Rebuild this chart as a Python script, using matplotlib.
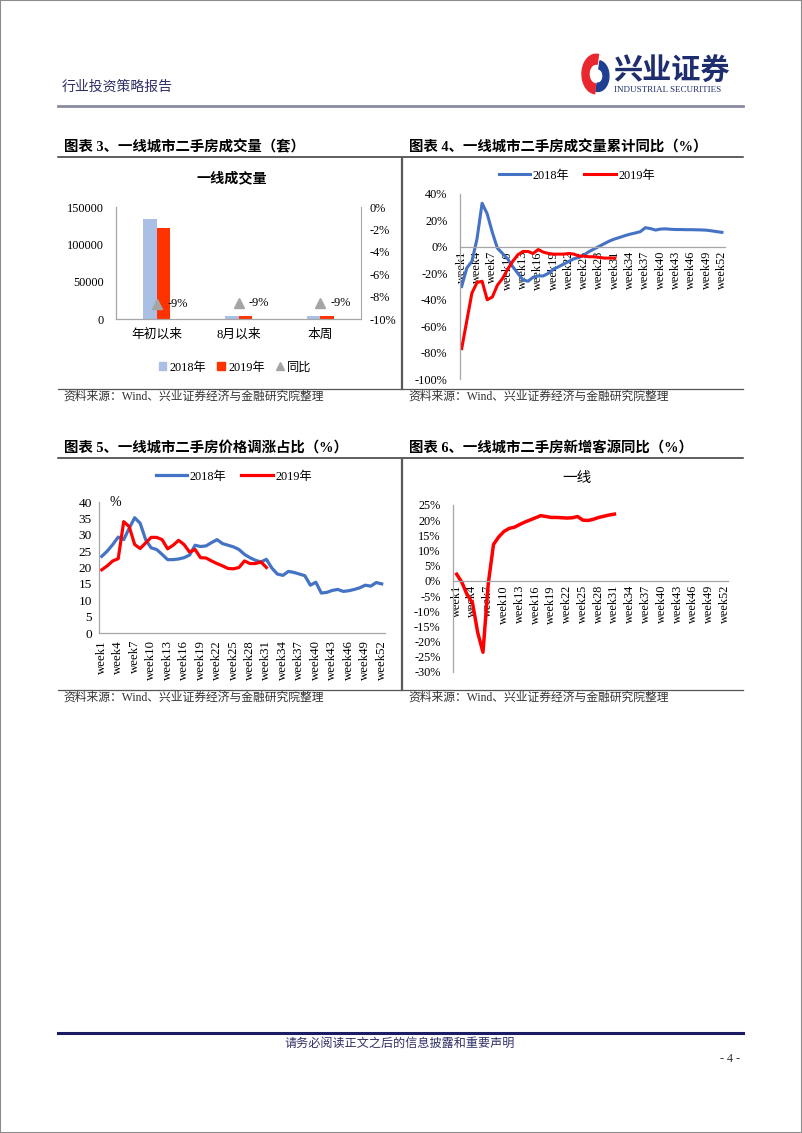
import numpy as np
import matplotlib
matplotlib.use('Agg')
import matplotlib.pyplot as plt
from matplotlib.lines import Line2D
from matplotlib.patches import Patch, Wedge, Rectangle

plt.rcParams['font.family'] = ['Liberation Serif', 'Noto Sans CJK SC']
plt.rcParams['axes.unicode_minus'] = False

# ---- data ----
vol_cats = ['年初以来', '8月以来', '本周']
vol_2018 = [134900, 4500, 4400]
vol_2019 = [122800, 4100, 4000]
vol_yoy = [-8.66, -8.54, -8.54]

weeks = np.arange(1, 53)
week_ticks = list(range(1, 53, 3))
week_labels = ['week%d' % w for w in week_ticks]

cum_2018 = [-30, -16, -11, 6, 33, 25, 11, -1, -5, -9, -15, -20, -25, -26, -23, -22,
            -22, -20, -17, -15, -13, -11, -9, -8, -6, -3.5, -1.5, 0.5, 2.5, 4.5, 6, 7.2,
            8.5, 9.6, 10.5, 11.5, 14.5, 13.8, 12.7, 13.5, 13.6, 13.3, 13.1, 13.1, 13, 13,
            12.9, 12.8, 12.6, 12.1, 11.5, 11]
cum_2019 = [-77, -56, -35, -27, -26, -40, -38, -29, -24, -17, -11, -6, -3.5, -3.5, -5, -2,
            -4, -5, -5.5, -5.5, -5.5, -5, -5.5, -7, -7, -7.5, -7.5, -8, -8.5, -8.5, -8.5]

up_2018 = [23.4, 25, 27, 29.3, 28.5, 32, 35.2, 33.5, 28.5, 26, 25.5, 24, 22.4, 22.4, 22.6,
           23, 23.8, 26.8, 26.4, 26.6, 27.6, 28.5, 27.3, 26.8, 26.3, 25.5, 24, 23, 22.2,
           21.7, 22.5, 19.8, 18, 17.6, 18.8, 18.5, 18, 17.5, 14.6, 15.5, 12.2, 12.4, 13,
           13.3, 12.7, 12.9, 13.3, 13.8, 14.6, 14.3, 15.4, 15]
up_2019 = [19.3, 20.5, 22, 22.7, 34, 32.5, 27, 25.8, 27.5, 29.2, 29.2, 28.5, 25.7, 26.8,
           28.3, 27, 24.7, 25.5, 23, 22.9, 22, 21.2, 20.5, 19.7, 19.6, 20, 22, 21.2, 21.2,
           21.7, 20]

new_src = [2.2, -0.5, -4.6, -7.2, -17, -23.5, -1, 12, 14.5, 16.3, 17.3, 17.7, 18.6, 19.4,
           20.1, 20.8, 21.5, 21.2, 20.9, 20.9, 20.8, 20.7, 20.8, 21.2, 20, 19.9, 20.3,
           20.9, 21.3, 21.7, 22]

W, H = 802, 1133
BLUE = '#4472c4'
RED = '#ff0000'
GRID = '#a6a6a6'
NAVY = '#2e2e66'
SRC = '资料来源：Wind、兴业证券经济与金融研究院整理'

fig = plt.figure(figsize=(W / 100, H / 100), dpi=100)


def add_ax(x0, y0, x1, y1):
    return fig.add_axes([x0 / W, 1 - y1 / H, (x1 - x0) / W, (y1 - y0) / H])


def ftext(x, y, s, **kw):
    kw.setdefault('va', 'center')
    fig.text(x / W, 1 - y / H, s, **kw)


def fline(x0, y0, x1, y1, **kw):
    fig.add_artist(Line2D([x0 / W, x1 / W], [1 - y0 / H, 1 - y1 / H], **kw))


def style(ax):
    for s in ['top', 'right']:
        ax.spines[s].set_visible(False)
    for s in ['left', 'bottom']:
        ax.spines[s].set_color(GRID)
        ax.spines[s].set_linewidth(0.9)
    ax.tick_params(length=0, labelsize=8.8)
    ax.set_facecolor('none')


# ---- page frame, header, footer ----
fig.add_artist(Rectangle((0, 0), 1, 1, transform=fig.transFigure, fill=False,
                         edgecolor='#8c8c8c', lw=1.5))
ftext(62, 87, '行业投资策略报告', fontsize=10, color=NAVY)
fline(58, 105.5, 743, 105.5, color='#8a8aa0', lw=2)

# logo: two interlocking crescents + name
cx, cy, r = 596, 74, 14
fig.add_artist(Wedge((cx / W, 1 - cy / H), r / W, 80, 265, width=r * 0.5 / W,
                     color='#e8272f', transform=fig.transFigure))
fig.add_artist(Wedge(((cx + 2) / W, 1 - (cy + 2) / H), r * 0.78 / W, -100, 80,
                     width=r * 0.42 / W, color='#1f3f93', transform=fig.transFigure))
ftext(613, 72, '兴业证券', fontsize=21, fontweight='bold', color='#1e2d6e')
ftext(614, 89.5, 'INDUSTRIAL SECURITIES', fontsize=6.5, color='#1e2d6e')

fline(58, 1033, 743, 1033, color='#1c1c64', lw=2.2)
ftext(400, 1044, '请务必阅读正文之后的信息披露和重要声明', fontsize=8.7, color=NAVY,
      ha='center')
ftext(740, 1059, '- 4 -', fontsize=8.7, color='#333333', ha='right')

# section frames
for y_top, y_s, y_src in [(157, 389, 397), (458, 690, 698)]:
    fline(58, y_top, 743, y_top, color='#333333', lw=1.1)
    fline(58, y_s, 743, y_s, color='#555555', lw=0.9)
    fline(401.5, y_top + 1, 401.5, y_s, color='#595959', lw=1.6)
    ftext(63, y_src, SRC, fontsize=8.5, color='#333333')
    ftext(408, y_src, SRC, fontsize=8.5, color='#333333')

ftext(64, 147, '图表 3、一线城市二手房成交量（套）', fontsize=10.4, fontweight='bold')
ftext(409, 147, '图表 4、一线城市二手房成交量累计同比（%）', fontsize=10.4, fontweight='bold')
ftext(64, 449, '图表 5、一线城市二手房价格调涨占比（%）', fontsize=10.4, fontweight='bold')
ftext(409, 449, '图表 6、一线城市二手房新增客源同比（%）', fontsize=10.4, fontweight='bold')

# ---- chart 3: volume bars ----
ax3 = add_ax(116, 207.3, 361, 319)
style(ax3)
x = np.arange(len(vol_cats))
bw = 0.164
ax3.bar(x - bw / 2, vol_2018, bw, color='#a9bfe3', label='2018年')
ax3.bar(x + bw / 2, vol_2019, bw, color='#ff3300', label='2019年')
ax3.set_xlim(-0.5, 2.5)
ax3.set_ylim(0, 150000)
ax3.set_yticks([0, 50000, 100000, 150000])
ax3.set_yticklabels(['0', '50000', '100000', '150000'])
ax3.tick_params(axis='y', pad=9)
ax3.set_xticks(x)
ax3.set_xticklabels(vol_cats, fontsize=9.2)
ax3.tick_params(axis='x', pad=7)
ax3r = ax3.twinx()
ax3r.set_ylim(-10, 0)
ax3r.set_yticks(range(-10, 1, 2))
ax3r.set_yticklabels(['%d%%' % v for v in range(-10, 1, 2)])
ax3r.tick_params(length=0, labelsize=8.8, pad=6)
for s in ['top', 'left', 'bottom']:
    ax3r.spines[s].set_visible(False)
ax3r.spines['right'].set_color(GRID)
ax3r.plot(x, vol_yoy, linestyle='none', marker='^', markersize=6.5, color='#a5a5a5',
          label='同比')
for xi, v in zip(x, vol_yoy):
    ax3r.annotate('%.0f%%' % v, (xi, v), xytext=(7.5, 0), textcoords='offset points',
                  va='center', ha='left', fontsize=8.8)
ftext(232, 178.5, '一线成交量', fontsize=10.2, fontweight='bold', ha='center')
handles = [Patch(color='#a9bfe3'), Patch(color='#ff3300'),
           Line2D([], [], linestyle='none', marker='^', color='#a5a5a5', markersize=6)]
fig.legend(handles, ['2018年', '2019年', '同比'], loc='center',
           bbox_to_anchor=(235 / W, 1 - 367.5 / H), ncol=3, frameon=False, fontsize=8.8,
           handlelength=0.6, handleheight=0.6, handletextpad=0.3, columnspacing=0.9)

# ---- chart 4: cumulative yoy ----
ax4 = add_ax(460, 194, 725, 379)
style(ax4)
ax4.plot(weeks, cum_2018, color=BLUE, lw=2.2, label='2018年')
ax4.plot(weeks[:len(cum_2019)], cum_2019, color=RED, lw=2.2, label='2019年')
ax4.set_xlim(0.67, 52.6)
ax4.set_ylim(-100, 40)
ax4.set_yticks(range(-100, 41, 20))
ax4.set_yticklabels(['%d%%' % v for v in range(-100, 41, 20)])
ax4.tick_params(axis='y', pad=9)
ax4.spines['bottom'].set_position(('data', 0))
ax4.set_xticks(week_ticks)
ax4.set_xticklabels(week_labels, rotation=90)
ax4.tick_params(axis='x', pad=3)
ax4.legend(loc='center', bbox_to_anchor=(577 / W, 1 - 175.5 / H),
           bbox_transform=fig.transFigure, ncol=2, frameon=False, fontsize=8.8,
           handlelength=2.6, handletextpad=0.2, columnspacing=1.2)

# ---- chart 5: price-up share ----
ax5 = add_ax(99, 502, 385, 633)
style(ax5)
ax5.plot(weeks, up_2018, color=BLUE, lw=2.3, label='2018年')
ax5.plot(weeks[:len(up_2019)], up_2019, color=RED, lw=2.3, label='2019年')
ax5.set_xlim(0.5, 52.6)
ax5.set_ylim(0, 40)
ax5.set_yticks(range(0, 41, 5))
ax5.tick_params(axis='y', pad=5, labelsize=9.6)
ax5.set_xticks(week_ticks)
ax5.set_xticklabels(week_labels, rotation=90)
ax5.tick_params(axis='x', pad=5, labelsize=9.2)
ftext(110, 503, '%', fontsize=10)
ax5.legend(loc='center', bbox_to_anchor=(234 / W, 1 - 476.5 / H),
           bbox_transform=fig.transFigure, ncol=2, frameon=False, fontsize=8.8,
           handlelength=2.6, handletextpad=0.2, columnspacing=1.2)

# ---- chart 6: new buyers yoy ----
ax6 = add_ax(453, 505, 728, 672)
style(ax6)
ax6.plot(weeks[:len(new_src)], new_src, color=RED, lw=2.5)
ax6.set_xlim(0.3, 52.6)
ax6.set_ylim(-30, 25)
ax6.set_yticks(range(-30, 26, 5))
ax6.set_yticklabels(['%d%%' % v for v in range(-30, 26, 5)])
ax6.tick_params(axis='y', pad=9)
ax6.spines['bottom'].set_position(('data', 0))
ax6.set_xticks(week_ticks)
ax6.set_xticklabels(week_labels, rotation=90)
ax6.tick_params(axis='x', pad=3)
ftext(577, 478.5, '一线', fontsize=10.5, ha='center')

fig.savefig('out.png', dpi=100)
